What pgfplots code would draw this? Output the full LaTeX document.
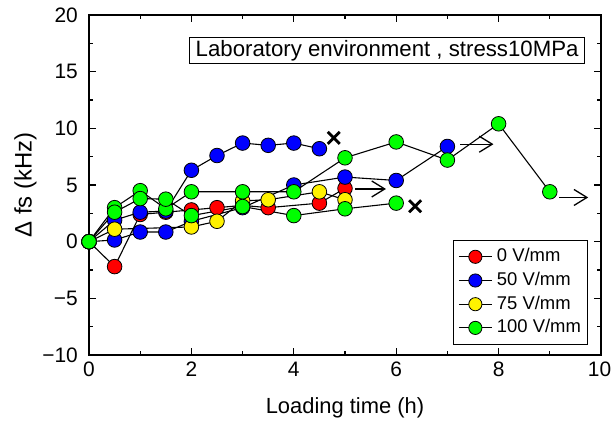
\documentclass[border=0pt]{standalone}
\usepackage{pgfplots}
\pgfplotsset{compat=1.18}
\usepackage{fontspec}
\setmainfont{Liberation Sans}
\usetikzlibrary{arrows.meta}

\begin{document}
\fontsize{21}{24}\selectfont
\begin{tikzpicture}
\begin{axis}[
  set layers, mark layer=axis foreground,
  scale only axis, width=512bp, height=340bp,
  at={(0,0)}, anchor=south west,
  xmin=0, xmax=10, ymin=-10, ymax=20,
  xtick={0,2,4,6,8,10}, xticklabels={0,2,4,6,8,{\kern-3bp10}}, minor x tick num=1,
  ytick={-10,-5,0,5,10,15,20}, yticklabels={−10,−5,0,5,10,15,20}, minor y tick num=1,
  major tick length=7bp, minor tick length=4bp,
  tick style={black, line width=1.2bp},
  axis line style={line width=1.5bp},
  ticklabel style={font=\fontsize{21}{24}\selectfont},
  yticklabel style={xshift=-4bp},
  xlabel={Loading time (h)},
  ylabel={Δ fs (kHz)},
  label style={font=\fontsize{22}{25}\selectfont},
  x label style={at={(axis description cs:0.5,-0.156)}, anchor=center},
  y label style={at={(axis description cs:-0.124,0.5)}, anchor=center,
    font=\fontsize{24}{27}\selectfont},
  every axis plot/.append style={black, line width=1.1bp, mark=*, mark size=7.3bp},
  legend style={at={(0.9746,0.0294)}, anchor=south east, draw=black, line width=1.2bp,
    font=\fontsize{18.5}{20}\selectfont, row sep=4.7bp, inner xsep=5bp, inner ysep=7bp,
    nodes={inner sep=1.5bp, text height=13bp, text depth=3bp},
    cells={anchor=west}},
  legend image code/.code={\draw[mark repeat=2,mark phase=2,mark size=6.6bp]
    plot coordinates {(0bp,0bp)(16.5bp,0bp)(33bp,0bp)}; \path (36bp,0bp);},
]
% 0 V/mm
\addplot[mark options={fill=red, draw=black, line width=0.8bp}] coordinates {
  (0,0) (0.5,-2.2) (1,2.4) (1.5,2.6) (2,2.8) (2.5,3.0) (3,3.2) (3.5,3.0) (4.5,3.4) (5,4.7)
};
\addlegendentry{0 V/mm}
% 50 V/mm
\addplot[mark options={fill=blue, draw=black, line width=0.8bp}] coordinates {
  (0,0) (0.5,1.9) (1,2.6) (1.5,2.7) (2,6.3) (2.5,7.6) (3,8.7) (3.5,8.5) (4,8.7) (4.5,8.2)
};
\addlegendentry{50 V/mm}
\addplot[forget plot, mark options={fill=blue, draw=black, line width=0.8bp}] coordinates {
  (0,0) (0.5,0.15) (1,0.85) (1.5,0.85) (2,1.8) (3,3.0) (4,5.0) (5,5.7) (6,5.4) (7,8.4)
};
% 75 V/mm
\addplot[mark options={fill=yellow, draw=black, line width=0.8bp}] coordinates {
  (0,0) (0.5,1.1) (2,1.3) (2.5,1.8) (3,3.6) (3.5,3.7) (4.5,4.4) (5,3.7)
};
\addlegendentry{75 V/mm}
% 100 V/mm
\addplot[mark options={fill=green, draw=black, line width=0.8bp}] coordinates {
  (0,0) (0.5,3.0) (1,4.5) (1.5,2.9) (2,4.4) (3,4.4) (4,4.4) (5,7.4) (6,8.8) (7,7.2) (8,10.4) (9,4.4)
};
\addlegendentry{100 V/mm}
\addplot[forget plot, mark options={fill=green, draw=black, line width=0.8bp}] coordinates {
  (0,0) (0.5,2.6) (1,3.8) (1.5,3.75) (2,2.3) (3,3.1) (4,2.3) (5,2.9) (6,3.4)
};
% end markers
\addplot[forget plot, only marks, mark=x, mark size=8.5bp, line width=2.8bp] coordinates {
  (4.78,9.15) (6.37,3.13)
};
\addplot[forget plot, no marks, line width=1.3bp, -{Straight Barb[length=13bp,width=16bp]}] coordinates {(5.2,4.65) (5.8,4.65)};
\addplot[forget plot, no marks, line width=1.3bp, -{Straight Barb[length=13bp,width=16bp]}] coordinates {(7.25,8.6) (7.9,8.6)};
\addplot[forget plot, no marks, line width=1.3bp, -{Straight Barb[length=13bp,width=16bp]}] coordinates {(9.18,3.9) (9.75,3.9)};

\node[draw, line width=1.2bp, anchor=north east, inner xsep=6bp, inner ysep=2.5bp, fill=white]
  at (axis description cs:0.969,0.935)
  {\fontsize{22.3}{25}\selectfont Laboratory environment , stress10MPa};
\end{axis}
\pgfresetboundingbox
\useasboundingbox (-89bp,-71bp) rectangle (522bp,355bp);
\end{tikzpicture}
\end{document}
